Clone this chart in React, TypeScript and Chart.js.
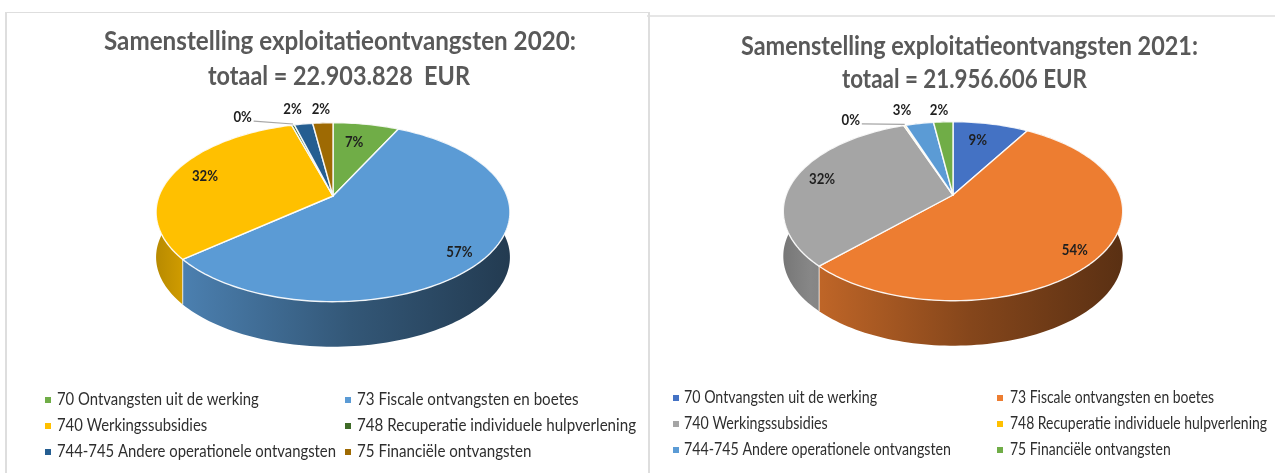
import React, { useEffect, useRef } from "react";
import { Chart, registerables } from "chart.js";

Chart.register(...registerables);

const categories = [
  "70 Ontvangsten uit de werking",
  "73 Fiscale ontvangsten en boetes",
  "740 Werkingssubsidies",
  "748 Recuperatie individuele hulpverlening",
  "744-745 Andere operationele ontvangsten",
  "75 Financiële ontvangsten",
];
const values2020 = [7.2, 56.6, 31.7, 0.3, 2.0, 2.2];
const values2021 = [8.6, 53.7, 32.1, 0.2, 3.2, 2.2];
const colors2020 = ["#70AD47", "#5B9BD5", "#FFC000", "#3F6B28", "#255E91", "#9E6A03"];
const colors2021 = ["#4472C4", "#ED7D31", "#A5A5A5", "#FFC000", "#5B9BD5", "#70AD47"];
const percentLabels2020 = ["7%", "57%", "32%", "0%", "2%", "2%"];
const percentLabels2021 = ["9%", "54%", "32%", "0%", "3%", "2%"];
const title2020 = ["Samenstelling exploitatieontvangsten 2020:", "totaal = 22.903.828  EUR"];
const title2021 = ["Samenstelling exploitatieontvangsten 2021:", "totaal = 21.956.606 EUR"];

const PERSPECTIVE = 0.181;
const toRad = Math.PI / 180;

function hex(c: string) {
  return [1, 3, 5].map((i) => parseInt(c.slice(i, i + 2), 16));
}
function shade(c: string, f: number) {
  const [r, g, b] = hex(c);
  return `rgb(${Math.round(r * f)},${Math.round(g * f)},${Math.round(b * f)})`;
}

const pie3d = {
  id: "pie3d",
  beforeDatasetsDraw(chart: any, _a: any, o: any) {
    const ctx: CanvasRenderingContext2D = chart.ctx;
    const arcs = chart.getDatasetMeta(0).data as any[];
    const cols = chart.data.datasets[0].backgroundColor as string[];
    const { x: cx, y: cy, outerRadius: A } = arcs[0];
    const B = A * o.squash;
    const k = PERSPECTIVE;
    const pt = (a: number, r = 1) => {
      const u = r * Math.cos(a);
      const v = r * Math.sin(a);
      const s = 1 / (1 - k * v);
      return [cx + A * u * s, cy + B * v * s];
    };
    const rx = A / Math.sqrt(1 - k * k);
    const samples = (s: number, e: number) => {
      const n = Math.max(2, Math.ceil(((e - s) / toRad) / 1.5));
      const out: number[][] = [];
      for (let i = 0; i <= n; i++) out.push(pt(s + ((e - s) * i) / n));
      return out;
    };
    // side wall
    const order = arcs
      .map((el, i) => ({ el, i, mid: (el.startAngle + el.endAngle) / 2 }))
      .sort((p, q) => Math.sin(p.mid) - Math.sin(q.mid));
    for (const { el, i } of order) {
      const rim = samples(el.startAngle, el.endAngle);
      const g = ctx.createLinearGradient(cx - rx, 0, cx + rx, 0);
      [[0, 0.72], [0.08, 0.82], [0.55, 0.56], [1, 0.38]].forEach(([t, f]) =>
        g.addColorStop(t, shade(cols[i], f))
      );
      ctx.beginPath();
      rim.forEach(([x, y], j) => (j ? ctx.lineTo(x, y) : ctx.moveTo(x, y)));
      [...rim].reverse().forEach(([x, y]) => ctx.lineTo(x, y + o.depth));
      ctx.closePath();
      ctx.fillStyle = g;
      ctx.fill();
    }
    // seams on the front of the wall
    ctx.strokeStyle = "rgba(255,255,255,0.75)";
    ctx.lineWidth = 1;
    for (const el of arcs) {
      if (Math.sin(el.endAngle) > 0.2) {
        const [x, y] = pt(el.endAngle);
        ctx.beginPath();
        ctx.moveTo(x, y);
        ctx.lineTo(x, y + o.depth);
        ctx.stroke();
      }
    }
    // top face
    arcs.forEach((el, i) => {
      const rim = samples(el.startAngle, el.endAngle);
      ctx.beginPath();
      ctx.moveTo(cx, cy);
      rim.forEach(([x, y]) => ctx.lineTo(x, y));
      ctx.closePath();
      ctx.fillStyle = cols[i];
      ctx.fill();
      ctx.strokeStyle = "rgba(255,255,255,0.9)";
      ctx.lineWidth = 1.4;
      ctx.lineJoin = "round";
      ctx.stroke();
    });
    // percent labels
    ctx.fillStyle = "#1F1F1F";
    ctx.textAlign = "center";
    ctx.textBaseline = "middle";
    ctx.font = "bold 15px Lato";
    arcs.forEach((el, i) => {
      const mid = (el.startAngle + el.endAngle) / 2 + o.labelShift[i] * toRad;
      const [x, y] = pt(mid, o.labelRadius[i]);
      if (i === o.leaderIndex) {
        const [rx0, ry0] = pt((el.startAngle + el.endAngle) / 2);
        ctx.save();
        ctx.strokeStyle = "#A6A6A6";
        ctx.lineWidth = 1.2;
        ctx.beginPath();
        ctx.moveTo(x + 11, y + 4);
        ctx.lineTo(rx0, ry0 - 1);
        ctx.stroke();
        ctx.restore();
      }
      ctx.save();
      ctx.translate(x, y);
      ctx.scale(0.88, 1);
      ctx.fillText(o.percents[i], 0, 0);
      ctx.restore();
    });
    return false;
  },
};

const fitted = (ctx: CanvasRenderingContext2D, text: string, x: number, y: number, sx: number) => {
  ctx.save();
  ctx.translate(x, y);
  ctx.scale(sx, 1);
  ctx.fillText(text, 0, 0);
  ctx.restore();
};

const texts = {
  id: "texts",
  afterDraw(chart: any, _a: any, o: any) {
    const ctx: CanvasRenderingContext2D = chart.ctx;
    ctx.save();
    ctx.textBaseline = "middle";
    // title
    ctx.font = "bold 27px Lato";
    ctx.fillStyle = "#595959";
    ctx.textAlign = "center";
    o.title.forEach((line: string, i: number) => {
      const sx = o.titleWidth[i] / ctx.measureText(line).width;
      fitted(ctx, line, o.titleX[i], o.titleY[i], sx);
    });
    // legend
    ctx.font = "17px Lato";
    ctx.textAlign = "left";
    const labels: string[] = chart.data.labels;
    const cols: string[] = chart.data.datasets[0].backgroundColor;
    const sxs = [
      o.legendWidth[0] / ctx.measureText(labels[4]).width,
      o.legendWidth[1] / ctx.measureText(labels[3]).width,
    ];
    labels.forEach((label, i) => {
      const col = i % 2;
      const row = Math.floor(i / 2);
      const y = o.legendY[row];
      ctx.fillStyle = cols[i];
      ctx.fillRect(o.swatchX[col], y - 3, 6, 6);
      ctx.fillStyle = "#2E2E2E";
      fitted(ctx, label, o.textX[col], y, sxs[col]);
    });
    ctx.restore();
  },
};

function usePie(ref: React.RefObject<HTMLCanvasElement | null>, cfg: any) {
  useEffect(() => {
    if (!ref.current) return;
    const chart = new Chart(ref.current, {
      type: "pie",
      data: {
        labels: categories,
        datasets: [{ data: cfg.values, backgroundColor: cfg.colors, borderWidth: 0 }],
      },
      options: {
        animation: false,
        responsive: false,
        layout: { padding: cfg.padding },
        plugins: {
          legend: { display: false },
          title: { display: false },
          tooltip: { enabled: false },
          pie3d: cfg.pie,
          texts: cfg.text,
        },
      },
      plugins: [pie3d, texts],
    } as any);
    return () => chart.destroy();
  }, []);
}

export default function App() {
  const a = useRef<HTMLCanvasElement>(null);
  const b = useRef<HTMLCanvasElement>(null);
  usePie(a, {
    values: values2020,
    colors: colors2020,
    padding: { left: 159, right: 133, top: 22, bottom: 103 },
    pie: {
      squash: 0.4975,
      depth: 45,
      percents: percentLabels2020,
      labelRadius: [0.72, 0.87, 0.805, 1.257, 1.26, 1.23],
      labelShift: [-2, 3.8, 0.7, -14, -1.5, 0],
      leaderIndex: 3,
    },
    text: {
      title: title2020,
      titleX: [340, 339],
      titleY: [41, 76],
      titleWidth: [472, 262],
      legendY: [400, 426, 452],
      swatchX: [45, 345],
      textX: [57, 357],
      legendWidth: [279, 279],
    },
  });
  usePie(b, {
    values: values2021,
    colors: colors2021,
    padding: { left: 146.1, right: 155.1, top: 28.1, bottom: 111.1 },
    pie: {
      squash: 0.5187,
      depth: 45,
      percents: percentLabels2021,
      labelRadius: [0.737, 0.868, 0.834, 1.26, 1.25, 1.2],
      labelShift: [-2.3, 3.4, 1.2, -15.4, -3.6, -0.9],
      leaderIndex: 3,
    },
    text: {
      title: title2021,
      titleX: [329.5, 324.5],
      titleY: [46, 79],
      titleWidth: [457, 245],
      legendY: [398, 424, 450],
      swatchX: [33, 357],
      textX: [44, 370],
      legendWidth: [267, 257],
    },
  });
  const canvasStyle: React.CSSProperties = { position: "absolute", top: 0, filter: "blur(0.5px)" };
  return (
    <div style={{ position: "absolute", left: 0, top: 0, width: 1275, height: 473, overflow: "hidden", background: "#fff" }}>
      <div style={{ position: "absolute", left: 647, top: 15, width: 700, height: 2, background: "#E6E6E6" }} />
      <div style={{ position: "absolute", left: 5, top: 12, width: 641, height: 480, border: "solid #DEDEDE", borderWidth: "1.5px 2px 0 2px" }} />
      <canvas ref={a} width={640} height={473} style={{ ...canvasStyle, left: 0 }} />
      <canvas ref={b} width={635} height={473} style={{ ...canvasStyle, left: 640 }} />
    </div>
  );
}
